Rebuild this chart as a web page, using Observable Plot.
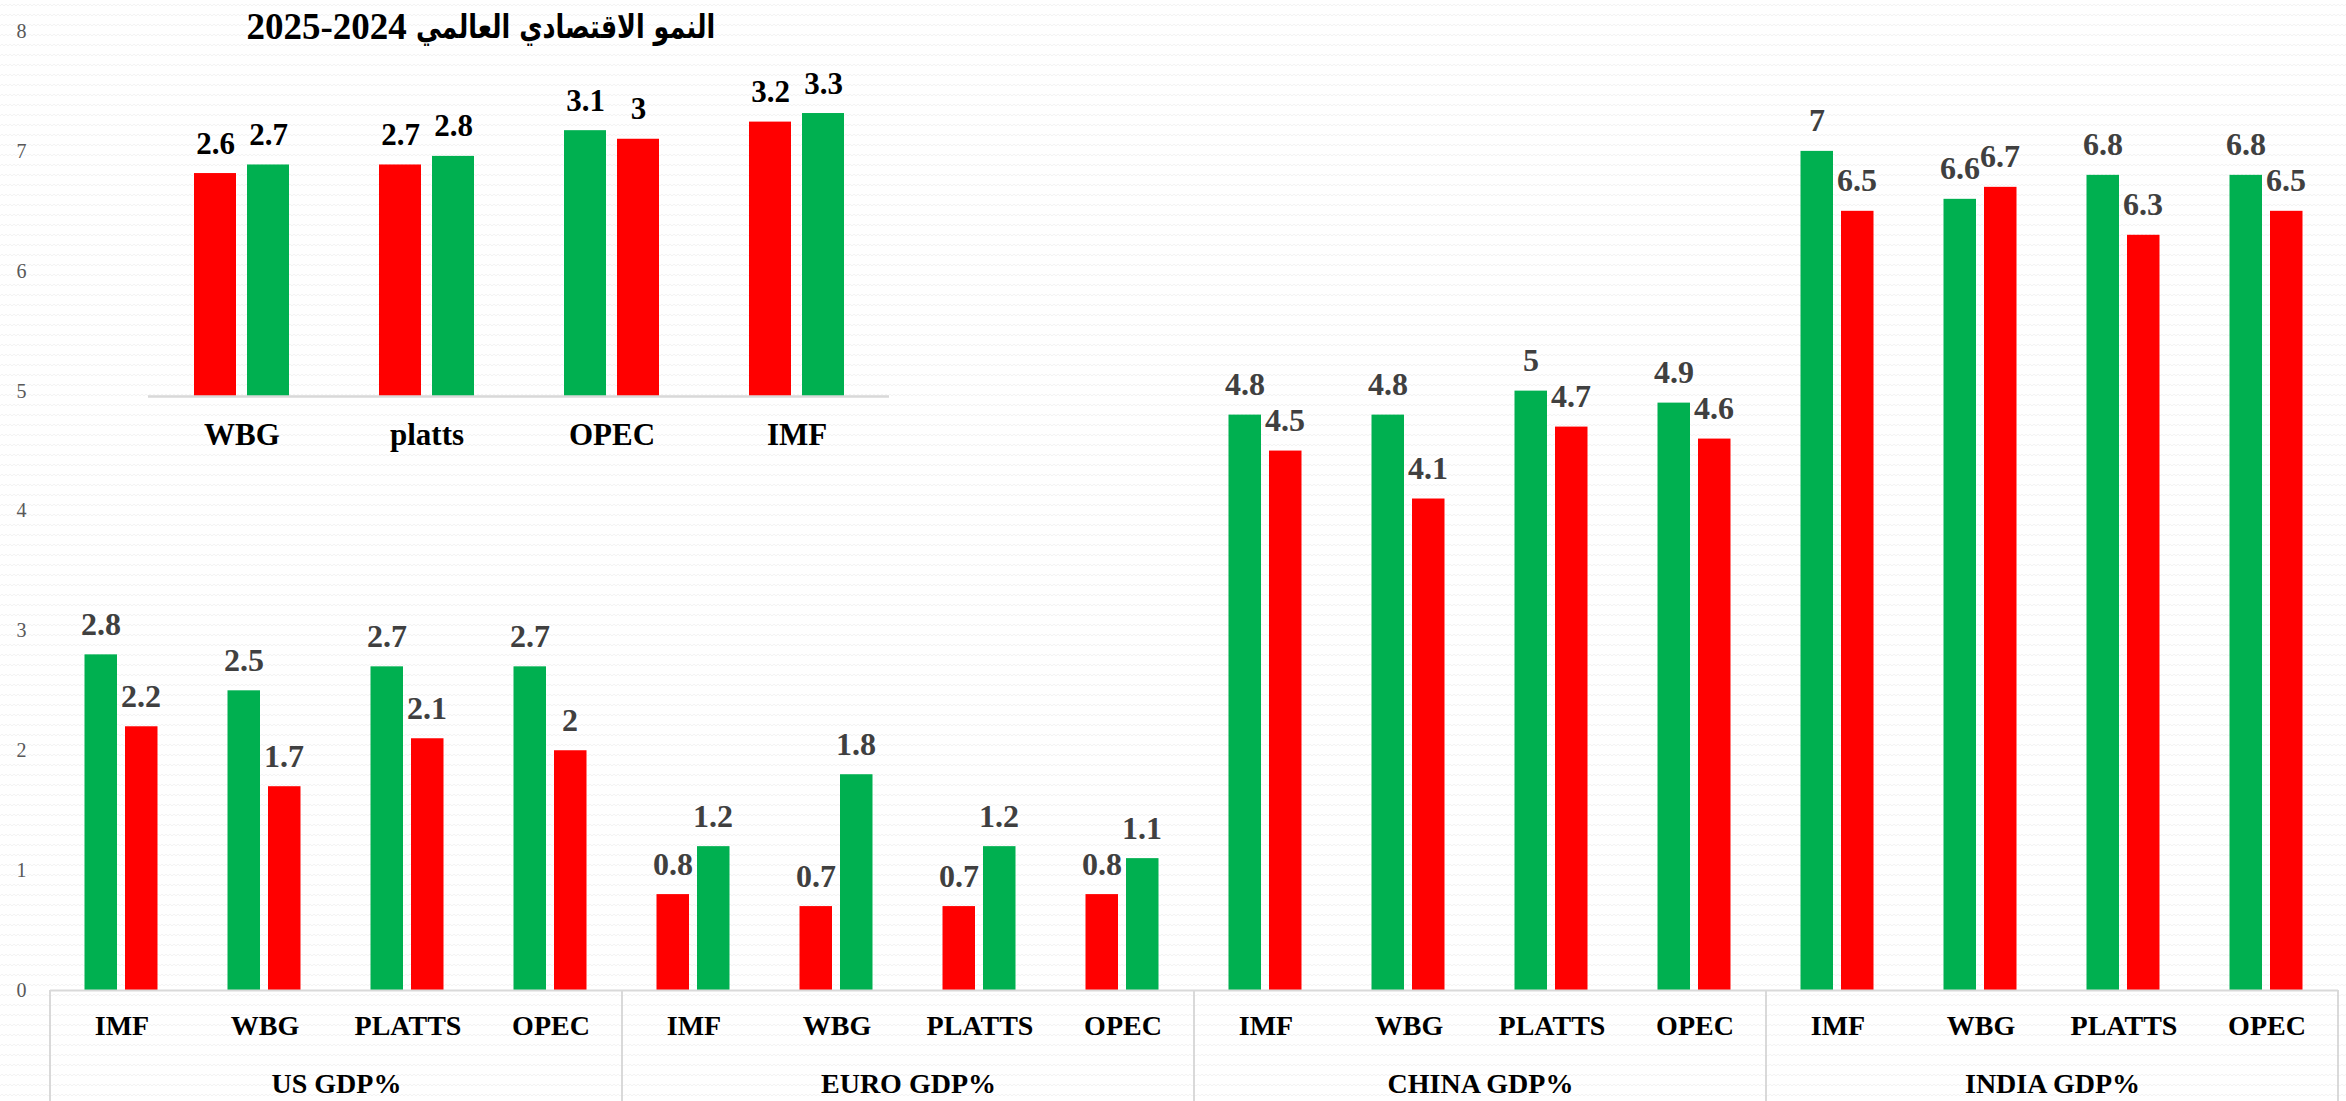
<!DOCTYPE html>
<html>
<head>
<meta charset="utf-8">
<script src="https://cdn.jsdelivr.net/npm/d3@7"></script>
<script src="https://cdn.jsdelivr.net/npm/@observablehq/plot@0.6"></script>
<style>
  html, body { margin: 0; padding: 0; }
  body {
    width: 2346px; height: 1101px; overflow: hidden; position: relative;
    background-color: #ffffff;
    background-image: url("data:image/svg+xml,%3Csvg xmlns='http://www.w3.org/2000/svg' width='8' height='10'%3E%3Cpath d='M0 6 L2 4 L4 6 L6 4 L8 6' fill='none' stroke='%23f3f3f3' stroke-width='1'/%3E%3C/svg%3E");
  }
  #main { position: absolute; left: 0; top: 0; }
  #inset { position: absolute; left: 0; top: 0; }
  #title {
    position: absolute; left: 481px; top: 26px; transform: translate(-50%, -50%);
    font-family: "Liberation Serif", "DejaVu Sans", serif; font-weight: bold; font-size: 37px;
    color: #000; white-space: nowrap; direction: rtl; display: flex; align-items: center; gap: 10px;
  }
  #title .ar { display: inline-block; transform: scaleX(0.77); transform-origin: right center; margin-left: -90px; font-family: "DejaVu Sans", sans-serif; font-size: 33px; }
  #title .num { direction: ltr; }
</style>
</head>
<body>
<div id="main"></div>
<div id="inset"></div>
<div id="title"><span class="ar"></span><span class="num"></span></div>
<script>
// ---------- Main chart data ----------
const groups = ["US GDP%", "EURO GDP%", "CHINA GDP%", "INDIA GDP%"];
const sources = ["IMF", "WBG", "PLATTS", "OPEC"];
// left bar and right bar of each pair, in order group by group
const leftValues  = [2.8, 2.5, 2.7, 2.7,  0.8, 0.7, 0.7, 0.8,  4.8, 4.8, 5, 4.9,  7, 6.6, 6.8, 6.8];
const rightValues = [2.2, 1.7, 2.1, 2,    1.2, 1.8, 1.2, 1.1,  4.5, 4.1, 4.7, 4.6,  6.5, 6.7, 6.3, 6.5];
const GREEN = "#00B050", RED = "#FF0000";
const leftColors  = [GREEN, RED, GREEN, GREEN];   // per group
const rightColors = [RED, GREEN, RED, RED];
const yTicks = [0, 1, 2, 3, 4, 5, 6, 7, 8];

// ---------- Inset chart data ----------
const insetTitleWords = "النمو الاقتصادي العالمي";
const insetTitleYears = "2025-2024";
const insetCats = ["WBG", "platts", "OPEC", "IMF"];
const insetLeft  = [2.6, 2.7, 3.1, 3.2];
const insetRight = [2.7, 2.8, 3, 3.3];
const insetLeftColors  = [RED, RED, GREEN, RED];
const insetRightColors = [GREEN, GREEN, RED, GREEN];

// ---------- Build tables ----------
const rows = [];
groups.forEach((g, gi) => sources.forEach((s, si) => {
  const i = gi * sources.length + si;
  rows.push({group: g, source: s, left: leftValues[i], right: rightValues[i],
             leftFill: leftColors[gi], rightFill: rightColors[gi]});
}));
const insetRows = insetCats.map((c, i) => ({cat: c, left: insetLeft[i], right: insetRight[i],
  leftFill: insetLeftColors[i], rightFill: insetRightColors[i]}));

const serif = "Liberation Serif, Times New Roman, serif";
const labelStyle = {fontFamily: serif, fontWeight: "bold", fontSize: 32, fill: "#404040", lineAnchor: "bottom"};

const main = Plot.plot({
  width: 2346, height: 1101,
  marginLeft: 50, marginRight: 8, marginTop: 31, marginBottom: 111,
  style: {background: "transparent", overflow: "visible"},
  fx: {domain: groups, padding: 0, label: null},
  x: {domain: sources, padding: 0, label: null},
  y: {domain: [0, 8], label: null},
  color: {type: "identity"},
  marks: [
    Plot.axisY({ticks: yTicks, tickSize: 0, tickPadding: 24, fontSize: 20, fontFamily: serif, fill: "#595959", label: null}),
    Plot.axisX({anchor: "bottom", tickSize: 0, tickPadding: 25, fontSize: 28, fontWeight: "bold", fontFamily: serif, fill: "#000", label: null}),
    Plot.axisFx({anchor: "bottom", tickSize: 0, tickPadding: 83, fontSize: 28, fontWeight: "bold", fontFamily: serif, fill: "#000", label: null}),
    Plot.barY(rows, {fx: "group", x: "source", y: "left", fill: "leftFill", insetLeft: 34.5, insetRight: 76}),
    Plot.barY(rows, {fx: "group", x: "source", y: "right", fill: "rightFill", insetLeft: 75, insetRight: 35.5}),
    Plot.ruleY([0], {stroke: "#d9d9d9", strokeWidth: 2}),
    Plot.text(rows, {fx: "group", x: "source", y: "left", text: d => String(d.left), dx: -21, dy: -20, ...labelStyle}),
    Plot.text(rows, {fx: "group", x: "source", y: "right", text: d => String(d.right), dx: 19, dy: -20, ...labelStyle})
  ]
});
document.getElementById("main").appendChild(main);

// group separator lines below the baseline, derived from the fx scale
{
  const fx = main.scale("fx");
  const y = main.scale("y");
  const y0 = y.apply(0);
  const edges = groups.map(g => fx.apply(g)).concat([fx.apply(groups[groups.length - 1]) + fx.bandwidth]);
  d3.select(main).append("g")
    .selectAll("line").data(edges).join("line")
    .attr("x1", d => d).attr("x2", d => d)
    .attr("y1", y0).attr("y2", 1101)
    .attr("stroke", "#d9d9d9").attr("stroke-width", 2);
}

// ---------- Inset ----------
const insetLabel = {fontFamily: serif, fontWeight: "bold", fontSize: 31, fill: "#000", lineAnchor: "bottom"};
const inset = Plot.plot({
  width: 900, height: 470,
  marginLeft: 148, marginRight: 11, marginTop: 53, marginBottom: 74,
  style: {background: "transparent", overflow: "visible"},
  x: {domain: insetCats, padding: 0, label: null},
  y: {domain: [0, 4], axis: null},
  color: {type: "identity"},
  marks: [
    Plot.axisX({anchor: "bottom", tickSize: 0, tickPadding: 26, fontSize: 31, fontWeight: "bold", fontFamily: serif, fill: "#000", label: null}),
    Plot.barY(insetRows, {x: "cat", y: "left", fill: "leftFill", insetLeft: 45, insetRight: 98}),
    Plot.barY(insetRows, {x: "cat", y: "right", fill: "rightFill", insetLeft: 98, insetRight: 45}),
    Plot.ruleY([0], {stroke: "#d9d9d9", strokeWidth: 2.5}),
    Plot.text(insetRows, {x: "cat", y: "left", text: d => String(d.left), dx: -26.5, dy: -20, ...insetLabel}),
    Plot.text(insetRows, {x: "cat", y: "right", text: d => String(d.right), dx: 26.5, dy: -20, ...insetLabel})
  ]
});
document.getElementById("inset").appendChild(inset);
document.querySelector("#title .ar").textContent = insetTitleWords;
document.querySelector("#title .num").textContent = insetTitleYears;
</script>
</body>
</html>
